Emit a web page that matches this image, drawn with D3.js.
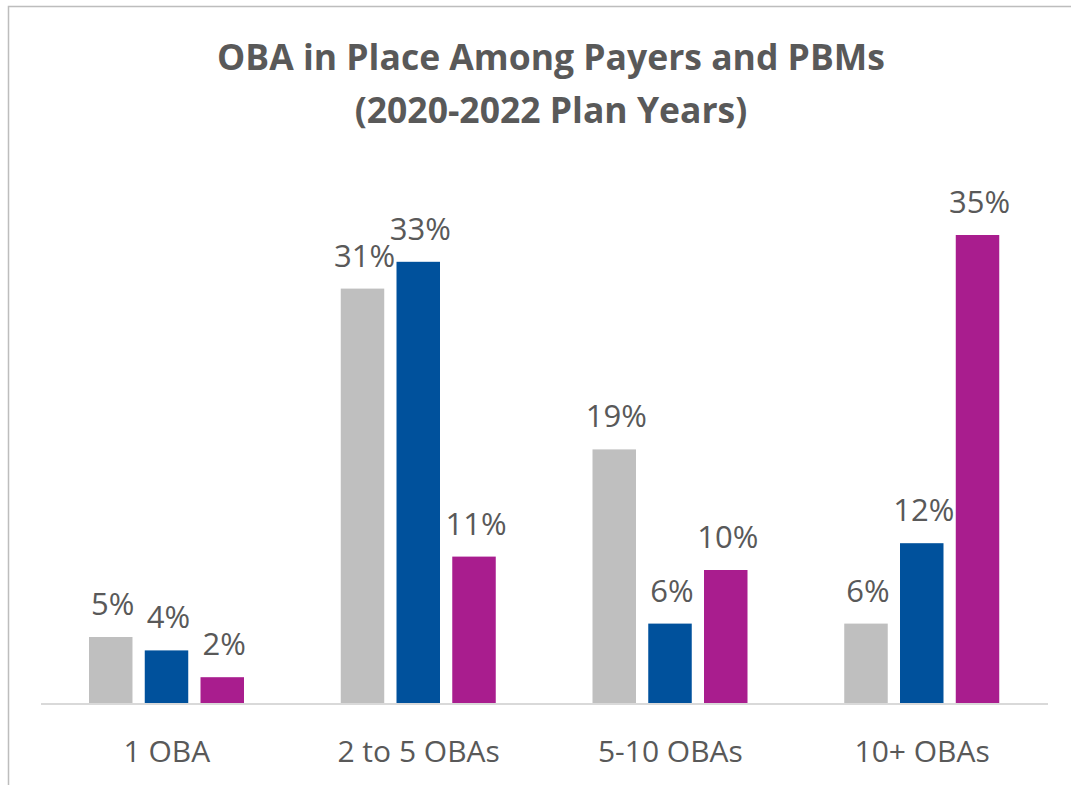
<!DOCTYPE html>
<html><head><meta charset="utf-8">
<script src="https://cdn.jsdelivr.net/npm/d3@7"></script>
<style>body{margin:0;background:#fff}svg{display:block}</style>
</head><body>
<svg id="c" width="1071" height="785"></svg>
<script>
const categories = ["1 OBA", "2 to 5 OBAs", "5-10 OBAs", "10+ OBAs"];
const series = ["Series A", "Series B", "Series C"];
const seriesA = [5, 31, 19, 6];
const seriesB = [4, 33, 6, 12];
const seriesC = [2, 11, 10, 35];
const colors = ["#bfbfbf", "#00519c", "#a91d8e"];
const titleLines = ["OBA in Place Among Payers and PBMs", "(2020-2022 Plan Years)"];

const values = [seriesA, seriesB, seriesC];
const data = categories.map((c, i) => ({cat: c, vals: values.map((v, s) => ({s, v: v[i]}))}));

const svg = d3.select("#c");
// frame
svg.append("path").attr("d", "M8.5,785 L8.5,6.5 L1071,6.5").attr("fill", "none").attr("stroke", "#bdbdbd").attr("stroke-width", 1.5);

const x0 = d3.scaleBand().domain(categories).range([41, 1048]).paddingInner(0).paddingOuter(0);
const x1 = d3.scaleBand().domain(d3.range(series.length)).range([48, 203]).paddingInner(0.22);
const y = d3.scaleLinear().domain([0, 40]).range([704, 168]);

const g = svg.selectAll("g.grp").data(data).join("g").attr("class", "grp")
  .attr("transform", d => `translate(${x0(d.cat)},0)`);

g.selectAll("rect").data(d => d.vals).join("rect")
  .attr("x", d => x1(d.s)).attr("width", x1.bandwidth())
  .attr("y", d => y(d.v)).attr("height", d => y(0) - y(d.v))
  .attr("fill", d => colors[d.s]);

g.selectAll("text.lbl").data(d => d.vals).join("text").attr("class", "lbl")
  .attr("x", d => x1(d.s) + x1.bandwidth() / 2 + 2).attr("y", d => y(d.v) - 22)
  .attr("text-anchor", "middle").attr("fill", "#595959")
  .style("font-family", "'Open Sans', sans-serif").style("font-size", "31px")
  .text(d => d.v + "%");

// axis
const axis = d3.axisBottom(x0).tickSize(0).tickPadding(0);
const ax = svg.append("g").attr("transform", `translate(0,${y(0)})`).call(axis);
ax.select(".domain").attr("stroke", "#d9d9d9").attr("stroke-width", 2).attr("d", "M41,0H1048");
ax.selectAll(".tick text").attr("fill", "#595959").attr("dy", 0).attr("y", 58)
  .style("font-family", "'Open Sans', sans-serif").style("font-size", "30px");

// title
svg.append("g").selectAll("text").data(titleLines).join("text")
  .attr("x", 551).attr("y", (d, i) => 70 + i * 53)
  .attr("text-anchor", "middle").attr("fill", "#595959")
  .style("font-family", "'Open Sans', sans-serif").style("font-weight", "bold").style("font-size", "35.5px")
  .text(d => d);
</script>
</body></html>
